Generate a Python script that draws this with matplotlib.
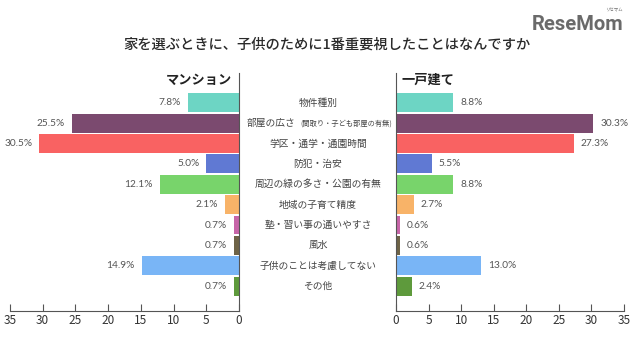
import matplotlib
matplotlib.use("Agg")
import matplotlib.pyplot as plt

plt.rcParams['font.family'] = ['Noto Sans CJK JP', 'DejaVu Sans']

categories = ["物件種別", "部屋の広さ", "学区・通学・通園時間", "防犯・治安",
              "周辺の緑の多さ・公園の有無", "地域の子育て精度", "塾・習い事の通いやすさ",
              "風水", "子供のことは考慮してない", "その他"]
mansion = [7.8, 25.5, 30.5, 5.0, 12.1, 2.1, 0.7, 0.7, 14.9, 0.7]
house = [8.8, 30.3, 27.3, 5.5, 8.8, 2.7, 0.6, 0.6, 13.0, 2.4]
colors = ["#6dd5c4", "#7b4a6f", "#f96262", "#6079d3", "#78d46b",
          "#f8b368", "#c765a8", "#6e6347", "#79b5f6", "#5e9a3c"]
ticks = [0, 5, 10, 15, 20, 25, 30, 35]

W, H = 640, 355
fig = plt.figure(figsize=(6.4, 3.55), dpi=100)
fig.patch.set_facecolor("white")

ax_l = fig.add_axes([10 / W, 44 / H, 229 / W, 238 / H])
ax_r = fig.add_axes([396 / W, 44 / H, 228 / W, 238 / H])

ypos = list(range(len(categories)))
axis_col = "#555555"
num_font = ['Lato', 'Noto Sans CJK JP']

for ax, vals, side in [(ax_l, mansion, "left"), (ax_r, house, "right")]:
    ax.barh(ypos, vals, height=0.93, color=colors)
    ax.set_xlim(0, 35)
    ax.set_ylim(10.22, -1.46)
    ax.set_xticks(ticks)
    ax.set_yticks([])
    ax.tick_params(axis='x', direction='in', length=5, width=0.8, color=axis_col,
                   labelsize=8.5, labelcolor="#333333", pad=2)
    for s in ["top", "left", "right", "bottom"]:
        ax.spines[s].set_visible(False)
    ax.spines["bottom"].set_visible(True)
    ax.spines["bottom"].set_color(axis_col)
    for y, v in zip(ypos, vals):
        if side == "left":
            ax.annotate(f"{v:.1f}%", (v, y), xytext=(-5, 0), textcoords="offset points",
                        ha="right", va="center", fontsize=7.3, color="#555555", family=num_font)
        else:
            ax.annotate(f"{v:.1f}%", (v, y), xytext=(5, 0), textcoords="offset points",
                        ha="left", va="center", fontsize=7.3, color="#555555", family=num_font)

ax_l.invert_xaxis()
ax_l.spines["right"].set_visible(True)
ax_l.spines["right"].set_color(axis_col)
ax_r.spines["left"].set_visible(True)
ax_r.spines["left"].set_color(axis_col)

# category labels in the middle
for y, cat in zip(ypos, categories):
    yy = ax_l.transData.transform((0, y))[1] / fig.dpi / 3.55
    if cat == "部屋の広さ":
        fig.text(247 / W, yy, cat, ha="left", va="center", fontsize=7, color="#444444")
        fig.text(300 / W, yy, "(間取り・子ども部屋の有無)", ha="left", va="center",
                 fontsize=5.2, color="#444444")
    else:
        fig.text(318 / W, yy, cat, ha="center", va="center", fontsize=7, color="#444444")

fig.text(232 / W, 1 - 80 / H, "マンション", ha="right", va="center", fontsize=9.5,
         fontweight="bold", color="#222222")
fig.text(402 / W, 1 - 80 / H, "一戸建て", ha="left", va="center", fontsize=9.5,
         fontweight="bold", color="#222222")

fig.text(327 / W, 1 - 45 / H, "家を選ぶときに、子供のために1番重要視したことはなんですか",
         ha="center", va="center", fontsize=10.3, fontweight="medium", color="#2a2a2a")

# logo
fig.text(578 / W, 1 - 25 / H, "ReseMom", ha="center", va="center", fontsize=14.5,
         fontweight="bold", color="#6a6a6a", family=['Roboto', 'DejaVu Sans'])
fig.text(614 / W, 1 - 10 / H, "リセマム", ha="center", va="center", fontsize=3.2,
         color="#6a6a6a")

fig.savefig("out.png", dpi=100)
